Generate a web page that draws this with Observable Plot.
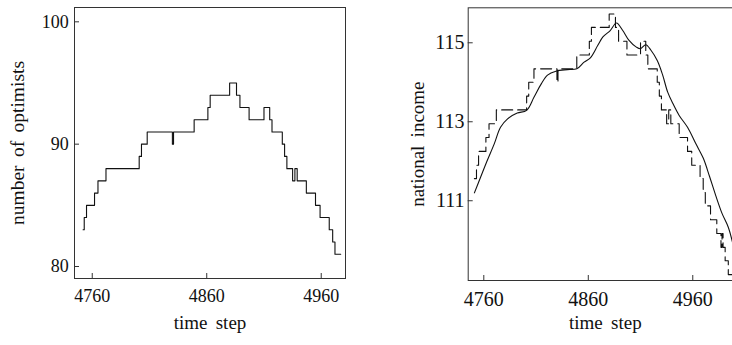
<!DOCTYPE html>
<html><head><meta charset="utf-8">
<script src="https://cdn.jsdelivr.net/npm/d3@7"></script>
<script src="https://cdn.jsdelivr.net/npm/@observablehq/plot@0.6"></script>
<style>
html,body{margin:0;padding:0;background:#fff;overflow:hidden}
#wrap{display:flex;width:732px;height:345px;overflow:hidden}
#wrap > svg{flex:none;display:block}
</style></head><body><div id="wrap"></div>
<script>
// Left panel: number of optimists (change points, step function)
const optTime  = [4752,4753,4755,4762,4765,4772,4801,4803,4808,4830,4831,4849,4861,4863,4880,4886,4889,4897,4910,4915,4917,4926,4928,4930,4935,4937,4939,4947,4955,4959,4967,4970,4972,4977];
const optValue = [83,84,85,86,87,88,89,90,91,90,91,92,93,94,95,94,93,92,93,92,91,90,89,88,87,88,87,86,85,84,83,82,81,81];

// Right panel: national income (solid) and step income (dashed)
const incomeTime  = [4751,4757,4763,4770,4776,4783,4792,4801,4808,4815,4821,4829,4840,4849,4856,4862,4869,4874,4881,4887,4893,4899,4906,4910,4915,4920,4926,4931,4936,4941,4947,4955,4963,4970,4976,4982,4988,4994,4998];
const incomeValue = [111.2,111.6,112.0,112.44,112.86,113.08,113.22,113.29,113.62,113.96,114.18,114.28,114.32,114.34,114.51,114.62,114.93,115.15,115.31,115.5,115.31,115.06,114.89,114.85,114.95,114.81,114.55,114.2,113.75,113.46,113.16,112.86,112.44,112.08,111.62,111.13,110.68,110.33,109.95];
const stepTime  = [4751,4753,4755,4762,4765,4772,4801,4803,4808,4830,4831,4849,4861,4863,4880,4886,4889,4897,4910,4915,4917,4926,4928,4930,4935,4937,4939,4947,4955,4959,4967,4970,4972,4977,4983,4987,4988,4989,4991,4994,4998];
const stepValue = [111.56,111.9,112.25,112.6,112.95,113.3,113.65,114.0,114.34,114.0,114.34,114.69,115.04,115.39,115.73,115.39,115.04,114.69,115.04,114.69,114.34,114.0,113.65,113.3,112.95,113.3,112.95,112.6,112.25,111.9,111.56,111.21,110.87,110.52,110.17,109.82,110.17,109.82,109.48,109.13,109.13];

const xTicks = [4760, 4860, 4960];
const leftYTicks = [80, 90, 100];
const rightYTicks = [111, 113, 115];
const xLabel = "time step";
const leftYLabel = "number of optimists";
const rightYLabel = "national income";

const font = "'Liberation Serif', 'Times New Roman', serif";
const opt = optTime.map((t, i) => ({t, v: optValue[i]}));
const income = incomeTime.map((t, i) => ({t, v: incomeValue[i]}));
const step = stepTime.map((t, i) => ({t, v: stepValue[i]}));
const fmt = d => String(d);

const left = Plot.plot({
  width: 366, height: 345,
  marginLeft: 74, marginRight: 21, marginTop: 7, marginBottom: 67,
  style: {fontFamily: font, fontSize: "18px", background: "white", color: "#111"},
  x: {domain: [4744.5, 4981.2], label: null},
  y: {domain: [79.02, 101.17], label: null},
  marks: [
    Plot.frame({stroke: "#333"}),
    Plot.axisX({ticks: xTicks, tickFormat: fmt, tickSize: -5, tickPadding: 15.7, label: null, stroke: "#333"}),
    Plot.axisY({ticks: leftYTicks, tickFormat: fmt, tickSize: -5, tickPadding: 10.7, label: null, stroke: "#333"}),
    Plot.text([xLabel], {text: d => d, frameAnchor: "bottom", textAnchor: "middle", dy: 50.2, fontSize: 19, fill: "#111"}),
    Plot.text([leftYLabel], {text: d => d, frameAnchor: "left", textAnchor: "middle", rotate: -90, dx: -57, fontSize: 19.5, fill: "#111"}),
    Plot.line(opt, {x: "t", y: "v", curve: "step-after", stroke: "#111", strokeWidth: 1.1})
  ]
});

const right = Plot.plot({
  width: 376, height: 345,
  marginLeft: 101.7, marginRight: 0, marginTop: 7.3, marginBottom: 65,
  style: {fontFamily: font, fontSize: "20px", background: "white", color: "#111"},
  x: {domain: [4745.07, 5007.6], label: null},
  y: {domain: [108.98, 115.886], label: null},
  marks: [
    Plot.frame({stroke: "#333"}),
    Plot.axisX({ticks: xTicks, tickFormat: fmt, tickSize: -5, tickPadding: 15.8, label: null, stroke: "#333"}),
    Plot.axisY({ticks: rightYTicks, tickFormat: fmt, tickSize: -5, tickPadding: 8.7, label: null, stroke: "#333"}),
    Plot.text([xLabel], {text: d => d, frameAnchor: "bottom", textAnchor: "middle", dy: 48.9, fontSize: 19, fill: "#111"}),
    Plot.text([rightYLabel], {text: d => d, frameAnchor: "left", textAnchor: "middle", rotate: -90, dx: -50.4, fontSize: 19, fill: "#111"}),
    Plot.line(step, {x: "t", y: "v", curve: "step-after", stroke: "#111", strokeWidth: 1.1, strokeDasharray: "11,5"}),
    Plot.line(income, {x: "t", y: "v", curve: "catmull-rom", stroke: "#111", strokeWidth: 1.1})
  ]
});

// wider word spacing, as in the reference typesetting
for (const svg of [left, right]) {
  d3.select(svg).selectAll("text")
    .filter(function() { return this.textContent.includes(" "); })
    .style("word-spacing", "3.5px");
}

const wrap = document.getElementById("wrap");
wrap.appendChild(left);
wrap.appendChild(right);
</script></body></html>
